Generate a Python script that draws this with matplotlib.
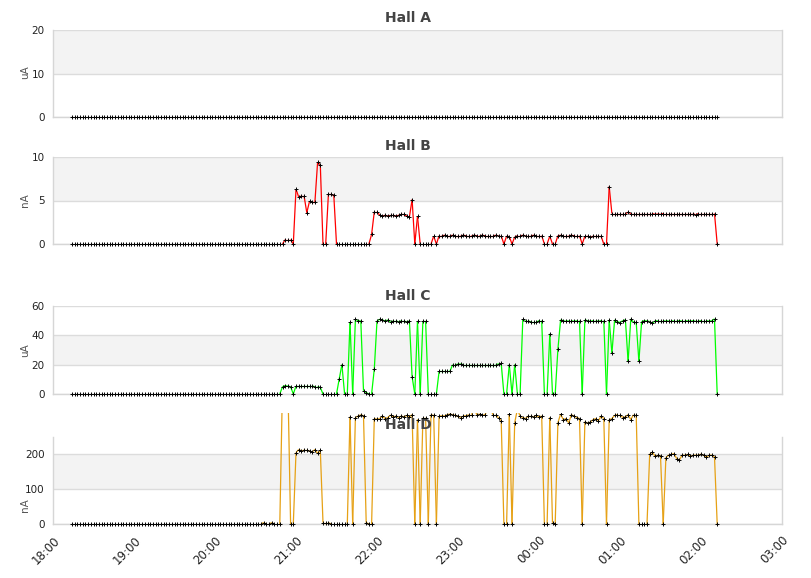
import numpy as np
import matplotlib
matplotlib.use("Agg")
import matplotlib.pyplot as plt
from matplotlib.collections import LineCollection
from matplotlib.patches import Rectangle

# ---------------- data ----------------
start_hour = 18 + 14 / 60      # first sample 18:14
step_hours = 2 / 60            # one sample every 2 minutes

hall_a = [
    0, 0, 0, 0, 0, 0, 0, 0, 0, 0,
    0, 0, 0, 0, 0, 0, 0, 0, 0, 0,
    0, 0, 0, 0, 0, 0, 0, 0, 0, 0,
    0, 0, 0, 0, 0, 0, 0, 0, 0, 0,
    0, 0, 0, 0, 0, 0, 0, 0, 0, 0,
    0, 0, 0, 0, 0, 0, 0, 0, 0, 0,
    0, 0, 0, 0, 0, 0, 0, 0, 0, 0,
    0, 0, 0, 0, 0, 0, 0, 0, 0, 0,
    0, 0, 0, 0, 0, 0, 0, 0, 0, 0,
    0, 0, 0, 0, 0, 0, 0, 0, 0, 0,
    0, 0, 0, 0, 0, 0, 0, 0, 0, 0,
    0, 0, 0, 0, 0, 0, 0, 0, 0, 0,
    0, 0, 0, 0, 0, 0, 0, 0, 0, 0,
    0, 0, 0, 0, 0, 0, 0, 0, 0, 0,
    0, 0, 0, 0, 0, 0, 0, 0, 0, 0,
    0, 0, 0, 0, 0, 0, 0, 0, 0, 0,
    0, 0, 0, 0, 0, 0, 0, 0, 0, 0,
    0, 0, 0, 0, 0, 0, 0, 0, 0, 0,
    0, 0, 0, 0, 0, 0, 0, 0, 0, 0,
    0, 0, 0, 0, 0, 0, 0, 0, 0, 0,
    0, 0, 0, 0, 0, 0, 0, 0, 0, 0,
    0, 0, 0, 0, 0, 0, 0, 0, 0, 0,
    0, 0, 0, 0, 0, 0, 0, 0, 0, 0,
    0, 0, 0, 0, 0, 0, 0, 0, 0, 0,
]

hall_b = [
    0, 0, 0, 0, 0, 0, 0, 0, 0, 0,
    0, 0, 0, 0, 0, 0, 0, 0, 0, 0,
    0, 0, 0, 0, 0, 0, 0, 0, 0, 0,
    0, 0, 0, 0, 0, 0, 0, 0, 0, 0,
    0, 0, 0, 0, 0, 0, 0, 0, 0, 0,
    0, 0, 0, 0, 0, 0, 0, 0, 0, 0,
    0, 0, 0, 0, 0, 0, 0, 0, 0, 0,
    0, 0, 0, 0, 0, 0, 0, 0, 0, 0.5,
    0.5, 0.5, 0, 6.3, 5.4, 5.5, 5.5, 3.6, 4.9, 4.8,
    4.8, 9.4, 9.1, 0, 0, 5.7, 5.7, 5.6, 0, 0,
    0, 0, 0, 0, 0, 0, 0, 0, 0, 0,
    0, 1.1, 3.7, 3.7, 3.3, 3.2, 3.3, 3.2, 3.3, 3.3,
    3.2, 3.3, 3.4, 3.4, 3.2, 3.1, 5.1, 0, 3.2, 0,
    0, 0, 0, 0, 0.9, 0, 0.95, 0.95, 1.0, 0.95,
    0.95, 1.0, 0.95, 0.95, 0.95, 1.0, 0.95, 0.95, 0.95, 1.0,
    0.95, 0.95, 1.0, 0.95, 0.95, 0.95, 0.95, 1.0, 0.95, 0.95,
    0, 0.9, 0.85, 0, 0.8, 0.95, 0.95, 1.0, 0.95, 0.95,
    0.95, 1.0, 0.95, 0.95, 0.95, 0, 0, 0.9, 0, 0,
    0.95, 1.0, 0.95, 0.95, 0.95, 1.0, 0.95, 0.95, 0.95, 0,
    0.9, 0.9, 0.75, 0.9, 0.9, 0.9, 0.9, 0, 0, 6.6,
    3.5, 3.5, 3.5, 3.5, 3.5, 3.5, 3.65, 3.5, 3.5, 3.5,
    3.5, 3.5, 3.5, 3.5, 3.5, 3.5, 3.4, 3.45, 3.4, 3.5,
    3.5, 3.5, 3.5, 3.5, 3.5, 3.5, 3.5, 3.5, 3.5, 3.5,
    3.5, 3.35, 3.5, 3.5, 3.5, 3.5, 3.5, 3.5, 3.5, 0,
]

hall_c = [
    0, 0, 0, 0, 0, 0, 0, 0, 0, 0,
    0, 0, 0, 0, 0, 0, 0, 0, 0, 0,
    0, 0, 0, 0, 0, 0, 0, 0, 0, 0,
    0, 0, 0, 0, 0, 0, 0, 0, 0, 0,
    0, 0, 0, 0, 0, 0, 0, 0, 0, 0,
    0, 0, 0, 0, 0, 0, 0, 0, 0, 0,
    0, 0, 0, 0, 0, 0, 0, 0, 0, 0,
    0, 0, 0, 0, 0, 0, 0, 0, 5.0, 5.7,
    5.3, 5.0, 0, 5.4, 5.4, 5.4, 5.4, 5.4, 5.4, 5.4,
    5.0, 5.0, 4.5, 0, 0, 0, 0, 0, 0, 10.2,
    20, 0, 0, 49, 0, 51, 50, 49.8, 2.3, 1.0,
    0, 0, 17, 49.8, 51, 50.5, 49.8, 50.5, 49, 49.8,
    49.8, 49.3, 49.8, 49.8, 49, 49.8, 11.8, 0, 49.8, 0,
    49.8, 49.8, 0, 0, 0, 0, 15.4, 15.4, 15.4, 15.4,
    15.4, 20, 20, 20.3, 20.5, 20, 20, 20, 20, 20,
    20, 20, 20, 20, 20, 20, 20, 20, 20.5, 20.8,
    0, 0, 20, 0, 20, 0, 0, 51, 50, 50,
    49, 49, 49, 50, 50, 0, 0, 41, 0, 0,
    30.5, 50.5, 50, 49.5, 50, 50, 49.5, 50, 50, 0,
    50.5, 50, 49.5, 50, 50, 49.5, 50, 50, 0, 50.5,
    27.8, 50.5, 49.4, 48.7, 50, 50.5, 22.2, 51.2, 48.9, 48.9,
    22.2, 49.4, 50, 49.8, 49.4, 48.2, 49.8, 50, 50, 50,
    49.6, 50, 50, 49.6, 49.6, 50, 49.6, 49.6, 50, 49.6,
    50, 49.6, 49.6, 50, 50, 50, 49.6, 50, 51.2, 0,
]

hall_d = [
    0, 0, 0, 0, 0, 0, 0, 0, 0, 0,
    0, 0, 0, 0, 0, 0, 0, 0, 0, 0,
    0, 0, 0, 0, 0, 0, 0, 0, 0, 0,
    0, 0, 0, 0, 0, 0, 0, 0, 0, 0,
    0, 0, 0, 0, 0, 0, 0, 0, 0, 0,
    0, 0, 0, 0, 0, 0, 0, 0, 0, 0,
    0, 0, 0, 0, 0, 0, 0, 0, 0, 0,
    0, 4, 0, 0, 4, 0, 0, 0, 400, 400,
    400, 0, 0, 205, 214, 210, 212, 212, 210, 207,
    214, 203, 212, 4, 4, 4, 0, 0, 0, 0,
    0, 0, 0, 308, 0, 306, 310, 314, 311, 4,
    0, 0, 303, 301, 303, 310, 303, 306, 313, 308,
    310, 306, 310, 308, 312, 308, 314, 0, 300, 0,
    305, 305, 0, 314, 312, 0, 310, 311, 310, 314,
    316, 314, 312, 309, 306, 310, 311, 314, 314, 330,
    314, 316, 312, 314, 330, 330, 314, 314, 305, 297,
    0, 0, 316, 0, 291, 330, 310, 306, 303, 310,
    310, 308, 312, 308, 310, 0, 0, 306, 4, 0,
    291, 316, 300, 303, 291, 314, 310, 306, 303, 0,
    294, 289, 293, 300, 303, 297, 310, 303, 0, 300,
    303, 312, 314, 314, 306, 308, 314, 300, 314, 314,
    0, 0, 0, 0, 201, 206, 195, 197, 196, 0,
    191, 198, 200, 202, 188, 184, 198, 197, 200, 195,
    197, 198, 197, 201, 197, 193, 197, 198, 193, 0,
]

panel_titles = ["Hall A", "Hall B", "Hall C", "Hall D"]
panel_units = ["uA", "nA", "uA", "nA"]
panel_series = [hall_a, hall_b, hall_c, hall_d]
panel_colors = ["#ff0000", "#ff0000", "#00ff00", "#e6a115"]
panel_ylims = [(0, 20), (0, 10), (0, 60), (0, 250)]
panel_yticks = [[0, 10, 20], [0, 5, 10], [0, 20, 40, 60], [0, 100, 200]]
panel_ytick_labels = [["0", "10", "20"], ["0", "5", "10"],
                      ["0", "20", "40", "60"], ["0", "100", "200"]]
panel_bands = [(10, 20), (5, 10), (20, 40), (100, 200)]

tick_hours = [18, 19, 20, 21, 22, 23, 24, 25, 26, 27]
tick_labels = ["18:00", "19:00", "20:00", "21:00", "22:00", "23:00",
               "00:00", "01:00", "02:00", "03:00"]

# ---------------- layout (pixels) ----------------
W, H = 811, 578
left_px, right_px = 53, 782
panel_top_px = [30, 157, 306, 437]
panel_bot_px = [117, 244, 394, 524]
title_y_px = [18, 146, 296, 425]
unit_y_px = [72, 200, 350, 505]
clip_top_px = [None, None, None, 413]

fig = plt.figure(figsize=(W / 100, H / 100), dpi=100)
fig.patch.set_facecolor("white")

grid_col = "#dcdcdc"
band_col = "#f3f3f3"

for k in range(4):
    l = left_px / W
    w = (right_px - left_px) / W
    b = 1 - panel_bot_px[k] / H
    h = (panel_bot_px[k] - panel_top_px[k]) / H
    ax = fig.add_axes([l, b, w, h])
    ax.set_facecolor("white")
    ax.set_xlim(18, 27)
    ax.set_ylim(*panel_ylims[k])
    ax.axhspan(panel_bands[k][0], panel_bands[k][1], color=band_col, zorder=0, lw=0)
    for t in panel_yticks[k]:
        ax.axhline(t, color=grid_col, lw=1, zorder=1)
    for s in ax.spines.values():
        s.set_color("#d6d6d6")
        s.set_linewidth(1)
    ax.spines["top"].set_visible(False)

    y = np.asarray(panel_series[k], dtype=float)
    x = start_hour + step_hours * np.arange(len(y))
    segs = []
    for i in range(len(y) - 1):
        if y[i] == 0 and y[i + 1] == 0:
            continue
        segs.append([(x[i], y[i]), (x[i + 1], y[i + 1])])
    lc = LineCollection(segs, colors=panel_colors[k], linewidths=0.9, zorder=3)
    ax.add_collection(lc)
    mk, = ax.plot(x, y, ls="none", marker="+", ms=2.4, mew=0.7, color="black",
                  zorder=4, clip_on=False)

    if clip_top_px[k] is not None:
        clip_rect = Rectangle((l, 0), w, 1 - clip_top_px[k] / H,
                              transform=fig.transFigure, facecolor="none")
        lc.set_clip_on(True)
        mk.set_clip_on(True)
        lc.set_clip_path(clip_rect)
        mk.set_clip_path(clip_rect)

    ax.set_yticks(panel_yticks[k])
    ax.set_yticklabels(panel_ytick_labels[k])
    ax.tick_params(axis="y", length=0, pad=6, labelsize=7.5, labelcolor="#222222")
    ax.set_xticks(tick_hours)
    if k == 3:
        ax.set_xticklabels(tick_labels, rotation=45, ha="right", va="top",
                           rotation_mode="anchor")
        ax.tick_params(axis="x", length=0, pad=7, labelsize=8.5, labelcolor="#222222")
    else:
        ax.set_xticklabels([])
        ax.tick_params(axis="x", length=0)

    fig.text(408 / W, 1 - title_y_px[k] / H, panel_titles[k], ha="center", va="center",
             fontsize=10, fontweight="bold", color="#444444", zorder=10)
    fig.text(25 / W, 1 - unit_y_px[k] / H, panel_units[k], rotation=90,
             ha="center", va="center", fontsize=7.5, color="#555555")

fig.savefig("out.png", dpi=100, facecolor="white")
